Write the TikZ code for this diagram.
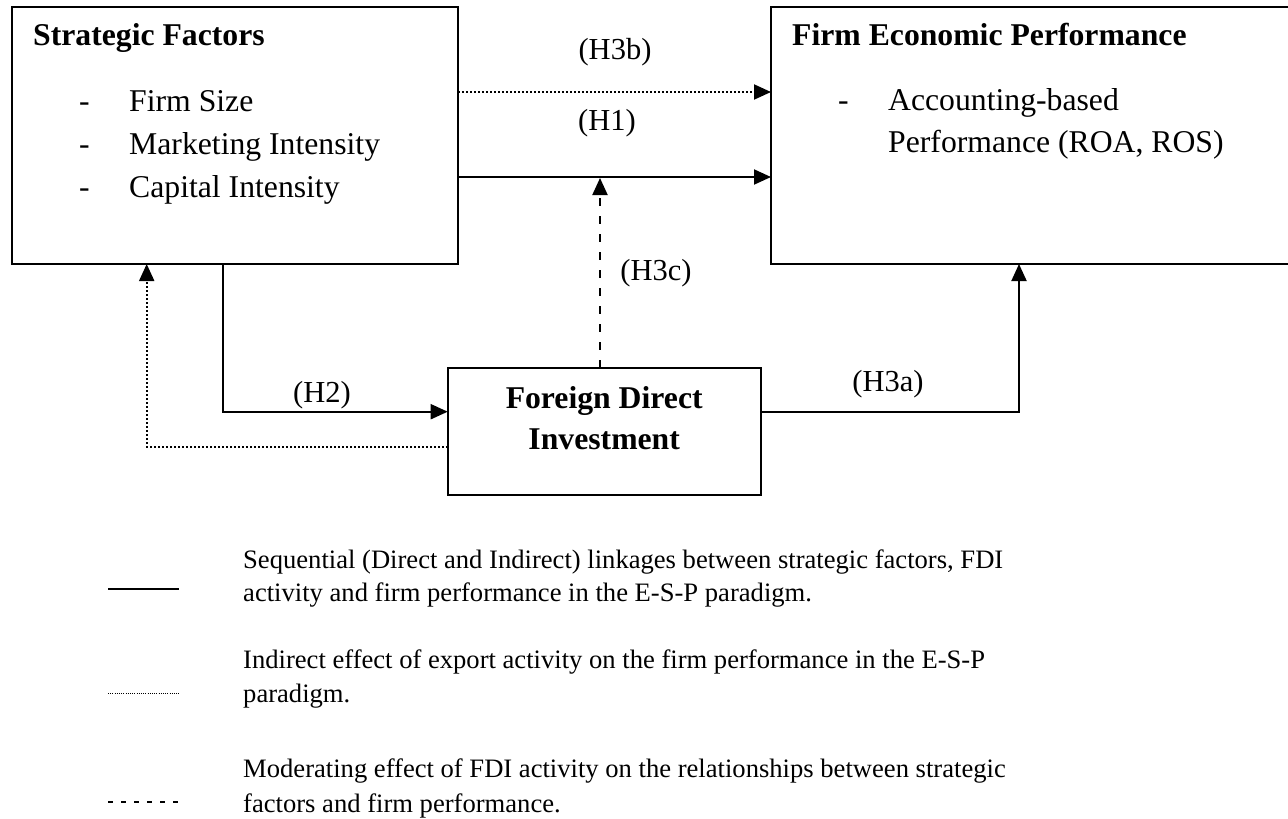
\documentclass[tikz,border=0pt]{standalone}
\usepackage{fontspec}
\setmainfont{Liberation Serif}
\usetikzlibrary{arrows.meta,calc}
\begin{document}
\begin{tikzpicture}[x=1pt,y=-1pt,
  box/.style={draw,line width=2pt,inner sep=0pt,outer sep=0pt},
  conn/.style={line width=2pt,-{Triangle[length=17pt,width=15pt]}},
  dotconn/.style={conn,dash pattern=on 2pt off 2pt},
  dashconn/.style={conn,dash pattern=on 8pt off 10pt},
  plainline/.style={line width=2pt},
  big/.style={font=\fontsize{31.7}{43}\selectfont,inner sep=0pt,anchor=base west},
  bigb/.style={big,font=\fontsize{31.7}{43}\selectfont\bfseries},
  hlab/.style={font=\fontsize{30.5}{36}\selectfont,inner sep=0pt},
  leg/.style={font=\fontsize{26.6}{34}\selectfont,inner sep=0pt,anchor=base west}
]
\useasboundingbox (0,0) rectangle (1288,819);

% boxes
\node[box,minimum width=446pt,minimum height=257pt] (sf) at (235,135.5) {};
\node[box,minimum width=529pt,minimum height=257pt] (fep) at (1035.5,135.5) {};
\node[box,minimum width=313pt,minimum height=127.3pt] (fdi) at (604.2,431.4) {};

% strategic factors text
\node[bigb] (sft) at (33,45) {Strategic Factors};
\node[big] (sd1) at (79,111) {-};
\node[big] (si1) at (129,111) {Firm Size};
\node[big] (sd2) at (79,154) {-};
\node[big] (si2) at (129,154) {Marketing Intensity};
\node[big] (sd3) at (79,197) {-};
\node[big] (si3) at (129,197) {Capital Intensity};

% firm economic performance text
\node[bigb] (fept) at (792,45) {Firm Economic Performance};
\node[big] (fd1) at (838,110) {-};
\node[big] (fi1) at (888,110) {Accounting-based};
\node[big] (fi2) at (888,152) {Performance (ROA, ROS)};

% FDI text
\node[bigb,anchor=base] (fdit1) at (604.2,408) {Foreign Direct};
\node[bigb,anchor=base] (fdit2) at (604.2,449) {Investment};

% connectors
\draw[dotconn] ([yshift=-85pt]sf.north east) -- ([yshift=-85pt]fep.north west);
\draw[conn] ([yshift=-170pt]sf.north east) -- ([yshift=-170pt]fep.north west);
\coordinate (h3ctip) at (600,178);
\draw[dashconn] (h3ctip |- fdi.north) -- (h3ctip);
\draw[conn] ([xshift=211pt]sf.south west) |- ([yshift=19.7pt]fdi.west);
\draw[dotconn] ([yshift=-15.3pt]fdi.west) -| ([xshift=134.7pt]sf.south west);
\draw[conn] ([yshift=19.7pt]fdi.east) -| ([xshift=248pt]fep.south west);

% hypothesis labels
\node[hlab] (lh3b) at (615,52) {(H3b)};
\node[hlab] (lh1) at (607,123) {(H1)};
\node[hlab] (lh3c) at (656,273) {(H3c)};
\node[hlab] (lh2) at (322,395) {(H2)};
\node[hlab] (lh3a) at (888,384) {(H3a)};

% legend
\coordinate (l1a) at (108,589); \coordinate (l1b) at (179,589);
\coordinate (l2a) at (108,693); \coordinate (l2b) at (179,693);
\coordinate (l3a) at (108,802); \coordinate (l3b) at (179,802);
\draw[plainline] (l1a) -- (l1b);
\draw[line width=1pt,dash pattern=on 1pt off 1.2pt] (l2a) -- (l2b);
\draw[line width=1.3pt,dash pattern=on 5pt off 8pt] (l3a) -- (l3b);

\node[leg] (t1) at (243,568) {Sequential (Direct and Indirect) linkages between strategic factors, FDI};
\node[leg] (t2) at (243,601) {activity and firm performance in the E-S-P paradigm.};
\node[leg] (t3) at (243,668) {Indirect effect of export activity on the firm performance in the E-S-P};
\node[leg] (t4) at (243,702) {paradigm.};
\node[leg] (t5) at (243,777) {Moderating effect of FDI activity on the relationships between strategic};
\node[leg] (t6) at (243,812) {factors and firm performance.};
\end{tikzpicture}
\end{document}
